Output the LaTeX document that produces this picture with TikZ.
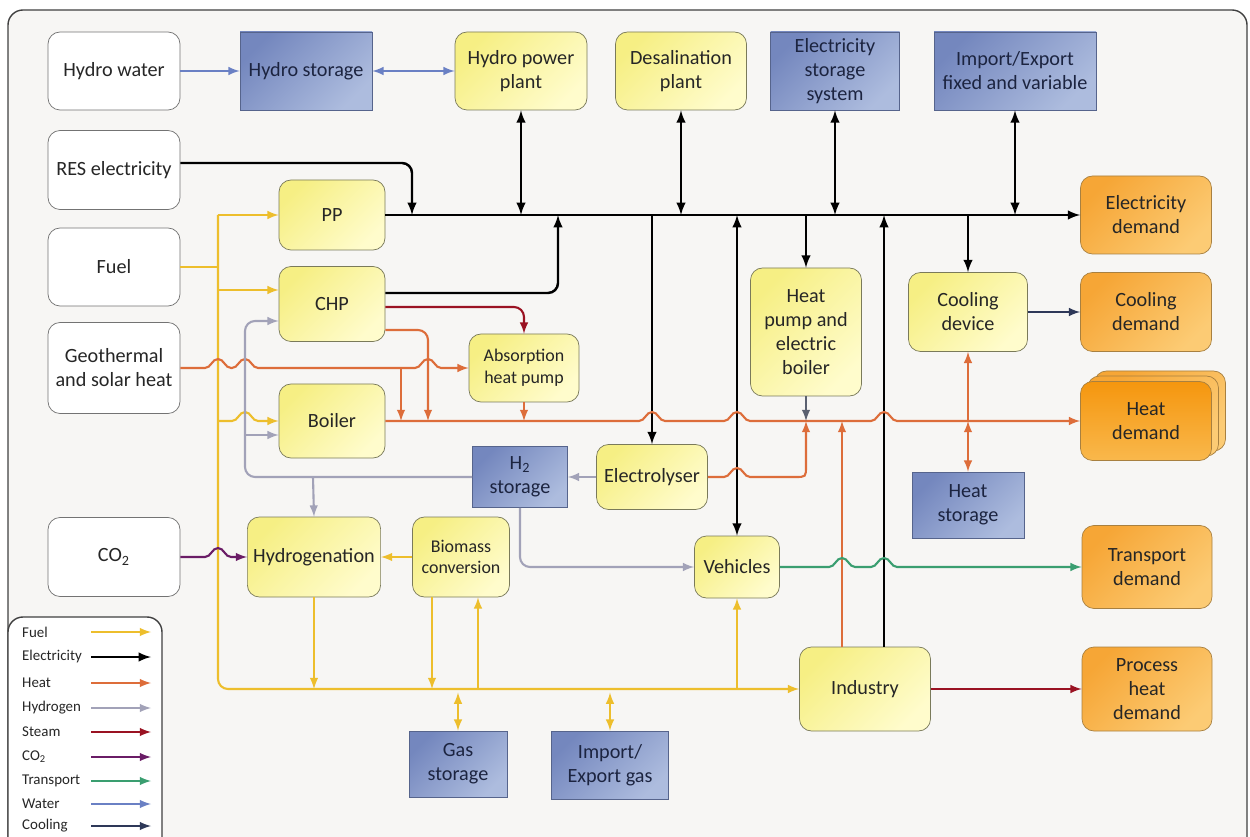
\documentclass[tikz,border=0pt]{standalone}
\usepackage{fontspec}
\setmainfont{Carlito}
\usepackage{tikz}
\usetikzlibrary{arrows}

\definecolor{bgc}{HTML}{F7F6F4}
\definecolor{yel1}{HTML}{F6EF84}
\definecolor{yel2}{HTML}{FFFCCC}
\definecolor{yeldk}{HTML}{7A7A5A}
\definecolor{blu1}{HTML}{7487BE}
\definecolor{blu2}{HTML}{ADBCDE}
\definecolor{bludk}{HTML}{56648C}
\definecolor{navyt}{HTML}{1C2440}
\definecolor{org1}{HTML}{F6A636}
\definecolor{org2}{HTML}{FCCB74}
\definecolor{org3}{HTML}{F5960E}
\definecolor{org4}{HTML}{F9B84C}
\definecolor{orgdk}{HTML}{A88040}
\definecolor{fuelc}{HTML}{EDBE2C}
\definecolor{heatc}{HTML}{DD6D3A}
\definecolor{h2c}{HTML}{A2A2B8}
\definecolor{steamc}{HTML}{9A1222}
\definecolor{co2c}{HTML}{6A1C66}
\definecolor{trc}{HTML}{3A9E70}
\definecolor{waterc}{HTML}{6A80C4}
\definecolor{coolc}{HTML}{2E3858}
\definecolor{hpoutc}{HTML}{5A6070}

\begin{document}
\begin{tikzpicture}[>=latex, x=0.02cm, y=-0.02cm,
   every node/.style={font=\fontsize{11.5}{13.6}\selectfont, align=center, text=black!85},
   wh/.style 2 args={minimum width=#1*0.02cm, minimum height=#2*0.02cm},
   src/.style={draw=black!55, fill=white, rounded corners=0.24cm},
   proc/.style={draw=yeldk, top color=yel1, bottom color=yel2, shading angle=45, rounded corners=0.24cm},
   stor/.style={draw=bludk, top color=blu1, bottom color=blu2, shading angle=45, text=navyt},
   dem/.style={draw=orgdk, top color=org1, bottom color=org2, shading angle=45, rounded corners=0.24cm},
   small/.style={font=\fontsize{10.2}{12.4}\selectfont},
   line/.style={line width=1.2pt},
   fuel/.style={line, draw=fuelc},
   elec/.style={line width=1.4pt, draw=black},
   heat/.style={line, draw=heatc},
   hydrogen/.style={line, draw=h2c},
   steam/.style={line, draw=steamc},
   co2/.style={line, draw=co2c},
   transport/.style={line, draw=trc},
   water/.style={line, draw=waterc},
   cooling/.style={line, draw=coolc},
   hopx/.style 2 args={insert path={-- (#1-13,#2) .. controls (#1-7,#2) and (#1-6,#2-9) .. (#1,#2-9) .. controls (#1+6,#2-9) and (#1+7,#2) .. (#1+13,#2)}}]

   \clip (0,0) rectangle (1250,837);
   \draw[draw=black!75, fill=bgc, line width=0.8pt, rounded corners=0.3cm] (8,10) rectangle (1247,880);

   % sources
   \node[src, wh={132}{78}] (hw) at (114,71) {Hydro water};
   \node[src, wh={132}{79}] (res) at (114,170) {RES electricity};
   \node[src, wh={132}{78}] (fu) at (114,267) {Fuel};
   \node[src, wh={132}{91}] (geo) at (114,368) {Geothermal\\and solar heat};
   \node[src, wh={132}{79}] (co) at (114,557) {CO\textsubscript{2}};

   % top row
   \node[stor, wh={132}{78}] (hs) at (306,71) {Hydro storage};
   \node[proc, wh={132}{78}] (hpp) at (521,71) {Hydro power\\plant};
   \node[proc, wh={131}{78}] (des) at (681,71) {Desalination\\plant};
   \node[stor, wh={129}{78}] (ess) at (835,71) {Electricity\\storage\\system};
   \node[stor, wh={162}{78}] (iex) at (1015,71) {Import/Export\\fixed and variable};

   % conversion units
   \node[proc, wh={106}{70}] (pp) at (332,215) {PP};
   \node[proc, wh={106}{75}] (chp) at (332,304) {CHP};
   \node[proc, small, wh={110}{68}] (ahp) at (524,368) {Absorption\\heat pump};
   \node[proc, wh={106}{74}] (boi) at (332,421) {Boiler};
   \node[proc, wh={111}{128}] (hpb) at (806,332) {Heat\\pump and\\electric\\boiler};
   \node[proc, wh={119}{79}] (cdv) at (968,312) {Cooling\\device};
   \node[proc, wh={111}{65}] (ely) at (652,477) {Electrolyser};
   \node[stor, wh={95}{61}] (h2s) at (520,477) {H\textsubscript{2}\\storage};
   \node[stor, wh={112}{66}] (hst) at (968,505) {Heat\\storage};
   \node[proc, wh={131}{80}] (hyg) at (314,557) {Hydrogenation};
   \node[proc, small, wh={97}{80}] (bio) at (461,557) {Biomass\\conversion};
   \node[proc, wh={85}{62}] (veh) at (737,567) {Vehicles};
   \node[proc, wh={131}{84}] (ind) at (865,689) {Industry};
   \node[stor, wh={98}{66}] (gst) at (458,764) {Gas\\storage};
   \node[stor, wh={117}{68}] (igs) at (610,765) {Import/\\Export gas};

   % demands
   \node[dem, wh={131}{78}] (ed) at (1146,215) {Electricity\\demand};
   \node[dem, wh={131}{79}] (cd) at (1146,312) {Cooling\\demand};
   \node[dem, wh={131}{80}] (hd3) at (1160,411) {};
   \node[dem, wh={131}{80}] (hd2) at (1153,416) {};
   \node[dem, top color=org3, bottom color=org4, wh={131}{79}] (hd) at (1146,421) {Heat\\demand};
   \node[dem, wh={130}{83}] (td) at (1147,567) {Transport\\demand};
   \node[dem, wh={130}{84}] (phd) at (1147,689) {Process\\heat\\demand};

   % water
   \draw[water,->] (hw) -- (hs);
   \draw[water,<->] (hs) -- (hpp);

   % fuel
   \coordinate (ft) at (218,215);
   \coordinate (fb) at (218,689);
   \draw[fuel] (fu.east) -- (fu.east -| ft);
   \draw[fuel,->,rounded corners=0.2cm] (ft) -- (fb) -- (ind.west);
   \draw[fuel,->] (ft) -- (pp.west);
   \draw[fuel,->] (218,290) -- (chp.west |- 0,290);
   \draw[fuel,->] (boi.west -| ft) [hopx={245}{421}] -- (boi.west);
   \draw[fuel,->] (bio) -- (hyg);
   \draw[fuel,->] (hyg.south) -- (hyg.south |- fb);
   \draw[fuel,->] (bio.south -| 432,0) -- (432,689);
   \draw[fuel,->] (478,689) -- (bio.south -| 478,0);
   \draw[fuel,->] (veh.south |- fb) -- (veh.south);
   \draw[fuel,<->] (gst.north) -- ([yshift=-2pt]gst.north |- fb);
   \draw[fuel,<->] (igs.north) -- ([yshift=-2pt]igs.north |- fb);

   % electricity
   \draw[elec,->] (pp.east) -- (ed.west);
   \draw[elec,->,rounded corners=0.2cm] (res.east |- 0,163) -| (412,215);
   \draw[elec,->,rounded corners=0.2cm] (chp.east |- 0,293) -| (558,215);
   \draw[elec,<->] (hpp.south) -- (hpp.south |- pp.east);
   \draw[elec,<->] (des.south) -- (des.south |- pp.east);
   \draw[elec,<->] (ess.south) -- (ess.south |- pp.east);
   \draw[elec,<->] (iex.south) -- (iex.south |- pp.east);
   \draw[elec,->] (ely.north |- pp.east) -- (ely.north);
   \draw[elec,<->] (veh.north |- pp.east) -- (veh.north);
   \draw[elec,->] (hpb.north |- pp.east) -- (hpb.north);
   \draw[elec,->] (ind.north -| 884,0) -- (884,215);
   \draw[elec,->] (cdv.north |- pp.east) -- (cdv.north);

   % steam
   \draw[steam,->,rounded corners=0.2cm] (chp.east |- 0,307) -| (ahp.north);
   \draw[steam,->] (ind) -- (phd);

   % heat
   \draw[heat,->] (boi.east) [hopx={652}{421}] [hopx={737}{421}] [hopx={884}{421}] -- (hd.west);
   \draw[heat,->,rounded corners=0.2cm] (chp.east |- 0,330) -| (428,421);
   \draw[heat,->] (geo.east) [hopx={218}{368}] [hopx={245}{368}] [hopx={428}{368}] -- (ahp.west);
   \draw[heat,->] (401,368) -- (401,421);
   \draw[heat,->] (ahp.south) -- (ahp.south |- boi.east);
   \draw[line,draw=hpoutc,->] (hpb.south) -- (hpb.south |- boi.east);
   \draw[heat,->] (ely.east) [hopx={737}{477}] -- (795,477) .. controls (806,477) .. (806,466) -- (806,421);
   \draw[heat,->] (ind.north -| 842,0) -- (842,421);
   \draw[heat,->] (cdv.south |- boi.east) -- (cdv.south);
   \draw[heat,<->] (hst.north) -- (hst.north |- boi.east);

   % hydrogen
   \draw[hydrogen,->,rounded corners=0.2cm] (h2s.west) -| (245,321) -- (chp.west |- 0,321);
   \draw[hydrogen,->] (245,435) -- (boi.west |- 0,435);
   \draw[hydrogen,->] (313,477) -- (hyg.north);
   \draw[hydrogen,->] (ely) -- (h2s);
   \draw[hydrogen,->,rounded corners=0.2cm] (h2s.south) |- (veh.west);

   % co2, transport, cooling
   \draw[co2,->] (co.east) [hopx={218}{557}] -- (hyg.west);
   \draw[transport,->] (veh.east) [hopx={842}{567}] [hopx={884}{567}] -- (td.west);
   \draw[cooling,->] (cdv) -- (cd);

   % legend
   \draw[draw=black!75, fill=white, line width=0.8pt, rounded corners=0.3cm] (8,617) rectangle (162,880);
   \node[anchor=west, font=\fontsize{8.5}{10}\selectfont] (l1) at (16,632) {Fuel};
   \node[anchor=west, font=\fontsize{8.5}{10}\selectfont] (l2) at (16,657) {Electricity};
   \node[anchor=west, font=\fontsize{8.5}{10}\selectfont] (l3) at (16,683) {Heat};
   \node[anchor=west, font=\fontsize{8.5}{10}\selectfont] (l4) at (16,708) {Hydrogen};
   \node[anchor=west, font=\fontsize{8.5}{10}\selectfont] (l5) at (16,732) {Steam};
   \node[anchor=west, font=\fontsize{8.5}{10}\selectfont] (l6) at (16,757) {CO\textsubscript{2}};
   \node[anchor=west, font=\fontsize{8.5}{10}\selectfont] (l7) at (16,781) {Transport};
   \node[anchor=west, font=\fontsize{8.5}{10}\selectfont] (l8) at (16,804) {Water};
   \node[anchor=west, font=\fontsize{8.5}{10}\selectfont] (l9) at (16,826) {Cooling};
   \draw[fuel,->] (91,632) -- (151,632);
   \draw[elec,->] (91,657) -- (151,657);
   \draw[heat,->] (91,683) -- (151,683);
   \draw[hydrogen,->] (91,708) -- (151,708);
   \draw[steam,->] (91,732) -- (151,732);
   \draw[co2,->] (91,757) -- (151,757);
   \draw[transport,->] (91,781) -- (151,781);
   \draw[water,->] (91,804) -- (151,804);
   \draw[cooling,->] (91,826) -- (151,826);
\end{tikzpicture}
\end{document}
